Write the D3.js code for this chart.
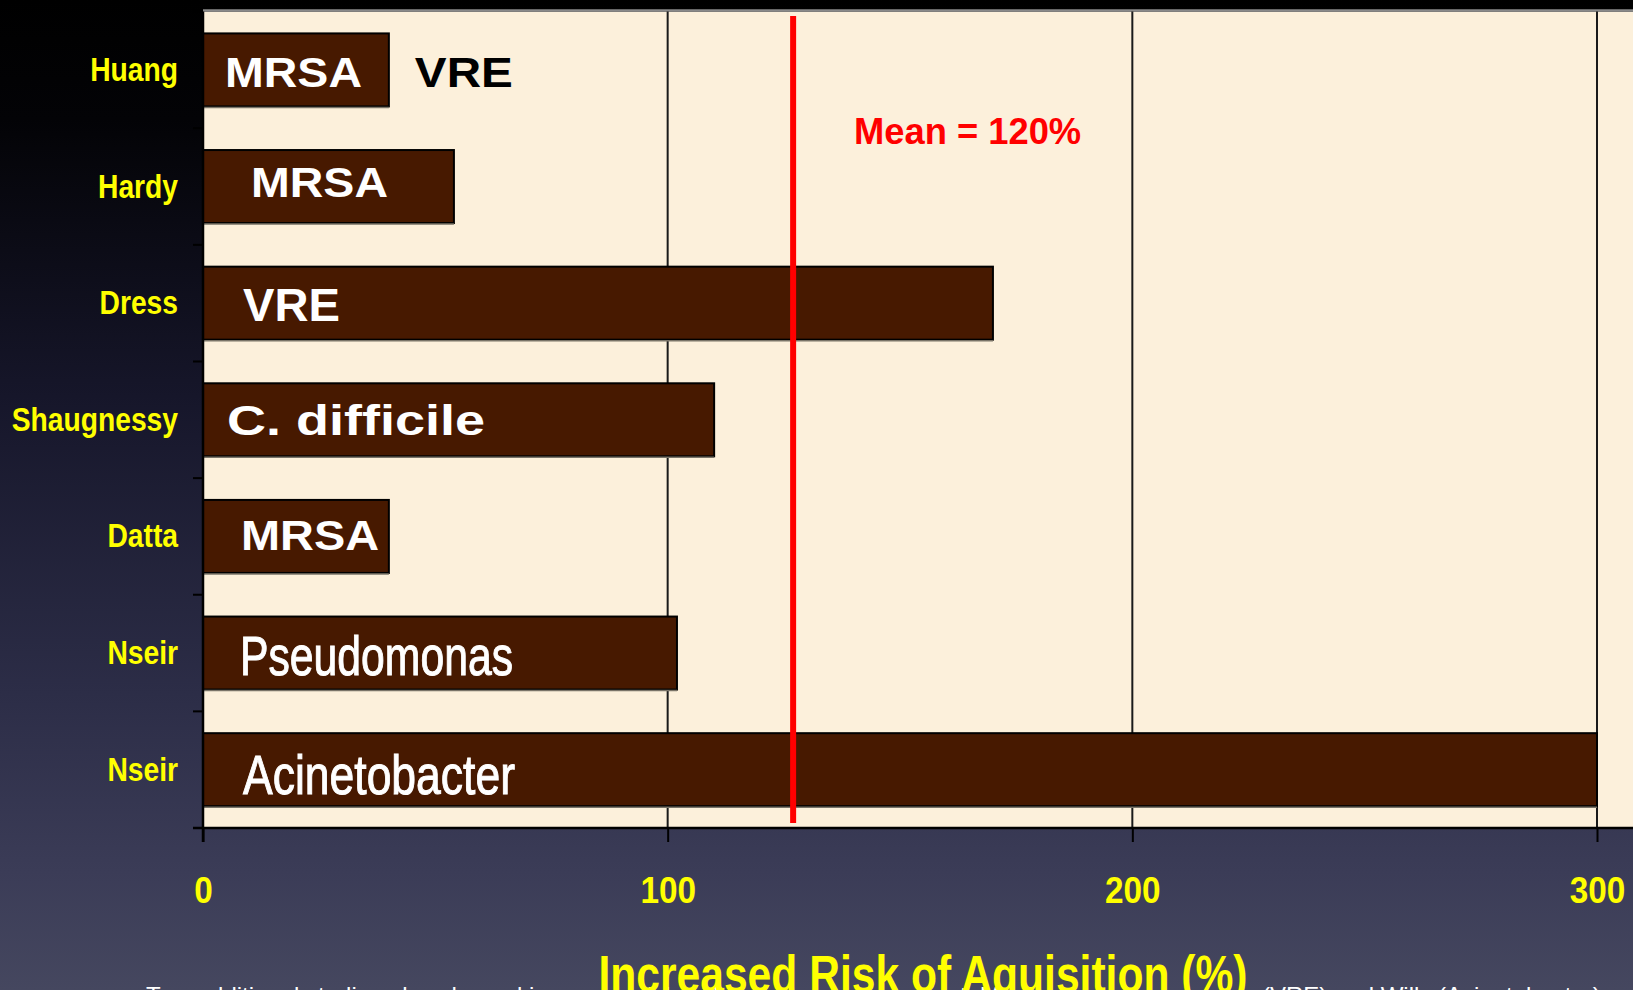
<!DOCTYPE html>
<html><head><meta charset="utf-8">
<script src="https://cdn.jsdelivr.net/npm/d3@7"></script>
<style>html,body{margin:0;padding:0;overflow:hidden;background:#000}</style>
</head><body><svg id="c" width="1633" height="990"></svg>
<script>
// ---- data ----
const studies = ["Huang", "Hardy", "Dress", "Shaugnessy", "Datta", "Nseir", "Nseir"];
const organisms = ["MRSA", "MRSA", "VRE", "C. difficile", "MRSA", "Pseudomonas", "Acinetobacter"];
const riskValues = [40, 54, 170, 110, 40, 102, 300];
const xTicks = [0, 100, 200, 300];
const xDomain = [0, 300];
const meanLinePos = 127;
const meanLabel = "Mean = 120%";
const extraLabel = "VRE";           // second organism for Huang
const axisTitle = "Increased Risk of Aquisition  (%)";
const footnoteA = "Two additional studies also showed increased risk with a prior room occupant: Martinez";
const footnoteB = "(VRE) and Willy (Acinetobacter)";

// ---- layout / style (not data) ----
const W = 1633, H = 990;
const SANS = "'Liberation Sans', Arial, Helvetica, sans-serif";
// per-bar label layout: dx from bar start, dy from band centre, font size, forced width, weight, extra stroke
const labelLayout = [
  {dx: 22, dy: 17, size: 42, len: 137, wt: "bold", sw: 0},
  {dx: 48, dy: 10.5, size: 42, len: 137, wt: "bold", sw: 0},
  {dx: 40, dy: 18, size: 46, len: 97, wt: "bold", sw: 0},
  {dx: 24, dy: 15, size: 42, len: 258, wt: "bold", sw: 0},
  {dx: 38, dy: 14, size: 42, len: 138, wt: "bold", sw: 0},
  {dx: 37, dy: 22, size: 55, len: 273, wt: "normal", sw: 1},
  {dx: 40, dy: 24, size: 55, len: 272, wt: "normal", sw: 1}
];
function condense(sel, f) {
  sel.each(function () {
    const l = this.getComputedTextLength();
    d3.select(this).attr("textLength", l * f).attr("lengthAdjust", "spacingAndGlyphs");
  });
}

const svg = d3.select("#c");
const defs = svg.append("defs");
const g1 = defs.append("linearGradient").attr("id", "bg")
  .attr("x1", 0).attr("y1", 0).attr("x2", 0).attr("y2", 1);
[[0, "#000000"], [0.12, "#030306"], [0.4, "#16162a"], [0.7, "#2c2d47"], [0.88, "#3b3c57"], [1, "#45475f"]]
  .forEach(([o, c]) => g1.append("stop").attr("offset", o).attr("stop-color", c));
svg.append("rect").attr("width", W).attr("height", H).attr("fill", "url(#bg)");

const plotTop = 11.6, plotBottom = 828;
const x = d3.scaleLinear().domain(xDomain).range([203, 1597]);
const y = d3.scaleBand().domain(d3.range(studies.length)).range([plotTop, plotBottom])
  .paddingInner(0.374).paddingOuter(0.187);
const bw = y.bandwidth();

// plot background
svg.append("rect").attr("x", x(0)).attr("y", plotTop).attr("width", W - x(0)).attr("height", plotBottom - plotTop)
  .attr("fill", "#fcf0db");
svg.append("line").attr("x1", x(0)).attr("x2", W).attr("y1", plotTop - 1).attr("y2", plotTop - 1)
  .attr("stroke", "#8a8a8a").attr("stroke-width", 2.5);

// gridlines
svg.append("g").selectAll("line").data(xTicks.filter(d => d > 0)).join("line")
  .attr("x1", d => x(d)).attr("x2", d => x(d)).attr("y1", plotTop).attr("y2", plotBottom)
  .attr("stroke", "#1a1a1a").attr("stroke-width", 2);

// bars
const bars = svg.append("g");
bars.selectAll("rect").data(riskValues).join("rect")
  .attr("x", x(0)).attr("y", (d, i) => y(i))
  .attr("width", d => x(d) - x(0)).attr("height", bw)
  .attr("fill", "#471900").attr("stroke", "#000").attr("stroke-width", 2);
bars.selectAll("line").data(riskValues).join("line")
  .attr("x1", x(0)).attr("x2", d => x(d)).attr("y1", (d, i) => y(i) + bw + 1).attr("y2", (d, i) => y(i) + bw + 1)
  .attr("stroke", "#7a7468").attr("stroke-width", 1.5);

// organism labels on bars
svg.append("g").selectAll("text").data(organisms).join("text")
  .attr("x", (d, i) => x(0) + labelLayout[i].dx)
  .attr("y", (d, i) => y(i) + bw / 2 + labelLayout[i].dy)
  .attr("font-family", SANS)
  .attr("font-weight", (d, i) => labelLayout[i].wt)
  .attr("font-size", (d, i) => labelLayout[i].size)
  .attr("textLength", (d, i) => labelLayout[i].len)
  .attr("lengthAdjust", "spacingAndGlyphs")
  .attr("stroke", (d, i) => labelLayout[i].sw ? "#ffffff" : "none")
  .attr("stroke-width", (d, i) => labelLayout[i].sw)
  .attr("fill", "#ffffff").text(d => d);

// extra black VRE label after Huang bar
svg.append("text").attr("x", x(riskValues[0]) + 26).attr("y", y(0) + bw / 2 + 17)
  .attr("font-family", SANS).attr("font-weight", "bold").attr("font-size", 42)
  .attr("textLength", 98).attr("lengthAdjust", "spacingAndGlyphs")
  .attr("fill", "#000").text(extraLabel);

// mean line + label
svg.append("line").attr("x1", x(meanLinePos)).attr("x2", x(meanLinePos)).attr("y1", 16).attr("y2", 823)
  .attr("stroke", "#ff0000").attr("stroke-width", 6);
svg.append("text").attr("x", x(meanLinePos) + 61).attr("y", 144)
  .attr("font-family", SANS).attr("font-weight", "bold").attr("font-size", 36)
  .attr("textLength", 227).attr("lengthAdjust", "spacingAndGlyphs")
  .attr("fill", "#ff0000").text(meanLabel);

// x axis
const xAxis = svg.append("g").attr("transform", `translate(0,${plotBottom})`)
  .call(d3.axisBottom(x).tickValues(xTicks).tickSize(14).tickFormat(d3.format("d")));
xAxis.select(".domain").remove();
xAxis.selectAll(".tick line").attr("stroke", "#000").attr("stroke-width", 2);
xAxis.selectAll(".tick text").attr("dy", null).attr("y", 75)
  .attr("font-family", SANS).attr("font-weight", "bold").attr("font-size", 37).attr("fill", "#ffff00")
  .call(condense, 0.9);
svg.append("line").attr("x1", 193).attr("x2", W).attr("y1", plotBottom).attr("y2", plotBottom)
  .attr("stroke", "#000").attr("stroke-width", 2.5);

// y axis line + boundary ticks + study labels
svg.append("line").attr("x1", x(0)).attr("x2", x(0)).attr("y1", plotTop).attr("y2", plotBottom + 14)
  .attr("stroke", "#000").attr("stroke-width", 2.5);
const bounds = d3.range(studies.length).map(i => y(i) - y.step() * y.paddingOuter());
svg.append("g").selectAll("line").data(bounds).join("line")
  .attr("x1", 193).attr("x2", x(0)).attr("y1", d => d).attr("y2", d => d)
  .attr("stroke", "#000").attr("stroke-width", 2);
svg.append("g").selectAll("text").data(studies).join("text")
  .attr("x", 178).attr("y", (d, i) => y(i) + bw / 2 + 11)
  .attr("text-anchor", "end")
  .attr("font-family", SANS).attr("font-weight", "bold").attr("font-size", 33)
  .attr("fill", "#ffff00").text(d => d)
  .call(condense, 0.855);

// footnote (mostly hidden below the frame) and axis title
const fn = svg.append("text").attr("y", 1004).attr("font-family", SANS).attr("font-size", 24).attr("fill", "#ffffff");
fn.append("tspan").attr("x", 146).text(footnoteA);
fn.append("tspan").attr("x", 1262).text(footnoteB);
svg.append("text").attr("x", 923).attr("y", 992).attr("text-anchor", "middle")
  .attr("font-family", SANS).attr("font-weight", "bold").attr("font-size", 52)
  .attr("textLength", 649).attr("lengthAdjust", "spacingAndGlyphs")
  .attr("fill", "#ffff00").text(axisTitle);
</script>
</body></html>
